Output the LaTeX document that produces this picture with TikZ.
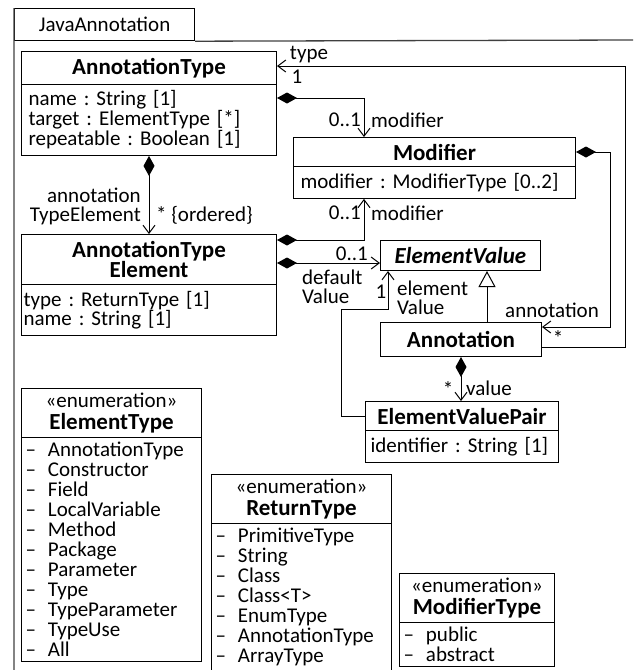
\documentclass[tikz,border=0pt]{standalone}
\usepackage{fontspec}
\setmainfont{Carlito}
\usetikzlibrary{shapes.multipart,arrows.meta}

\newcommand\hd[1]{{\fontsize{23}{21}\selectfont\bfseries #1}}
\newcommand\elit{–\hspace{12pt}}

\begin{document}
\frenchspacing
\begin{tikzpicture}[x=1pt,y=-1pt,font=\fontsize{21}{18}\selectfont]
    \tikzstyle{class}=[draw,line width=1pt,rectangle split,rectangle split parts=2,align=left,anchor=north west,inner xsep=7pt,inner ysep=6pt]
    \tikzstyle{enum}=[class,inner xsep=4pt,inner ysep=4pt,font=\fontsize{21}{20}\selectfont]
    \tikzstyle{plain}=[draw,line width=1pt,anchor=north west]
    \tikzstyle{comp}=[line width=1pt,arrows={Diamond[length=20pt,width=11pt]-Straight Barb[length=8pt,width=12pt]}]
    \tikzstyle{assoc}=[line width=1pt,arrows={-Straight Barb[length=8pt,width=12pt]}]
    \tikzstyle{gen}=[line width=1pt,arrows={-Triangle[open,length=16pt,width=17pt]}]
    \tikzstyle{lbl}=[inner sep=0pt,font=\fontsize{21}{19}\selectfont]

    \useasboundingbox (0,0) rectangle (633,670);

    % package frame
    \node[draw,line width=1.2pt,anchor=north west,minimum width=180pt,minimum height=32pt] (pkg) at (14,8) {JavaAnnotation};
    \draw[line width=1.3pt,black!75] (pkg.south east) -- (633,40) (pkg.north west) -- (14,670);

    % classes
    \node[class,text width=241pt] (at) at (21,51)
        {\centering\hd{AnnotationType}\par
         \nodepart{two}name : String [1]\\target : ElementType [*]\\repeatable : Boolean [1]};
    \node[class,text width=268pt] (mod) at (293,137)
        {\centering\hd{Modifier}\par
         \nodepart{two}modifier : ModifierType [0..2]};
    \node[class,inner xsep=2pt,text width=251pt] (ate) at (21,234)
        {\centering\hd{AnnotationType}\par\hd{Element}\par
         \nodepart{two}type : ReturnType [1]\\name : String [1]};
    \node[plain,minimum width=160pt,minimum height=30pt] (ev) at (380,240) {\hd{\itshape ElementValue}};
    \node[plain,minimum width=161pt,minimum height=34pt] (ann) at (380,322) {\hd{Annotation}};
    \node[class,inner xsep=5pt,text width=183pt] (evp) at (365,401)
        {\centering\hd{ElementValuePair}\par
         \nodepart{two}identifier : String [1]};

    % enumerations
    \node[enum,text width=172pt] (et) at (21,388)
        {\centering«enumeration»\par\vspace{2pt}\hd{ElementType}\par
         \nodepart{two}\elit AnnotationType\\\elit Constructor\\\elit Field\\\elit LocalVariable\\\elit Method\\\elit Package\\\elit Parameter\\\elit Type\\\elit TypeParameter\\\elit TypeUse\\\elit All};
    \node[enum,text width=172pt] (rt) at (211,474)
        {\centering«enumeration»\par\vspace{2pt}\hd{ReturnType}\par
         \nodepart{two}\elit PrimitiveType\\\elit String\\\elit Class\\\elit Class<T>\\\elit EnumType\\\elit AnnotationType\\\elit ArrayType};
    \node[enum,text width=147pt] (mt) at (399,573)
        {\centering«enumeration»\par\vspace{2pt}\hd{ModifierType}\par
         \nodepart{two}\elit public\\\elit abstract};

    % connectors
    \draw[assoc] (ann.east |- 0,347) -| (625,66) -- (at.east |- 0,66);
    \draw[comp] (at.east |- 0,98) -| (mod.north -| 364,0);
    \draw[comp] (at.south) -- (ate.north);
    \draw[comp] (ate.east |- 0,240) -| (mod.south -| 364,0);
    \draw[comp] (ate.east |- 0,263) -- (ev.west |- 0,263);
    \draw[comp] (mod.east |- 0,152) -| (610,327) -- (ann.east |- 0,327);
    \draw[gen] (ann.north -| 487,0) -- (ev.south -| 487,0);
    \draw[comp] (ann.south) -- (ann.south |- evp.north);
    \draw[assoc] (evp.west |- 0,416) -| (341,309) -| (ev.south -| 388,0);

    % labels
    \node[lbl] (l-type) at (309,55) {type};
    \node[lbl] (l-type1) at (297,77) {1};
    \node[lbl,anchor=east] (l-m1) at (361,120) {0..1};
    \node[lbl,anchor=west] (l-m1n) at (371,120) {modifier};
    \node[lbl,anchor=east,align=right] (l-ate) at (141,206) {annotation\\TypeElement};
    \node[lbl,anchor=west] (l-ate1) at (156,215) {* \{ordered\}};
    \node[lbl,anchor=east] (l-m2) at (361,213) {0..1};
    \node[lbl,anchor=west] (l-m2n) at (371,213) {modifier};
    \node[lbl,anchor=east] (l-dv1) at (368,254) {0..1};
    \node[lbl,anchor=west,align=left] (l-dv) at (302,287) {default\\Value};
    \node[lbl] (l-ev1) at (381,292) {1};
    \node[lbl,anchor=west,align=left] (l-ev) at (397,298) {element\\Value};
    \node[lbl,anchor=west] (l-ann) at (505,310) {annotation};
    \node[lbl] (l-ann1) at (558,338) {*};
    \node[lbl] (l-val1) at (448,389) {*};
    \node[lbl,anchor=west] (l-val) at (466,388) {value};
\end{tikzpicture}
\end{document}
